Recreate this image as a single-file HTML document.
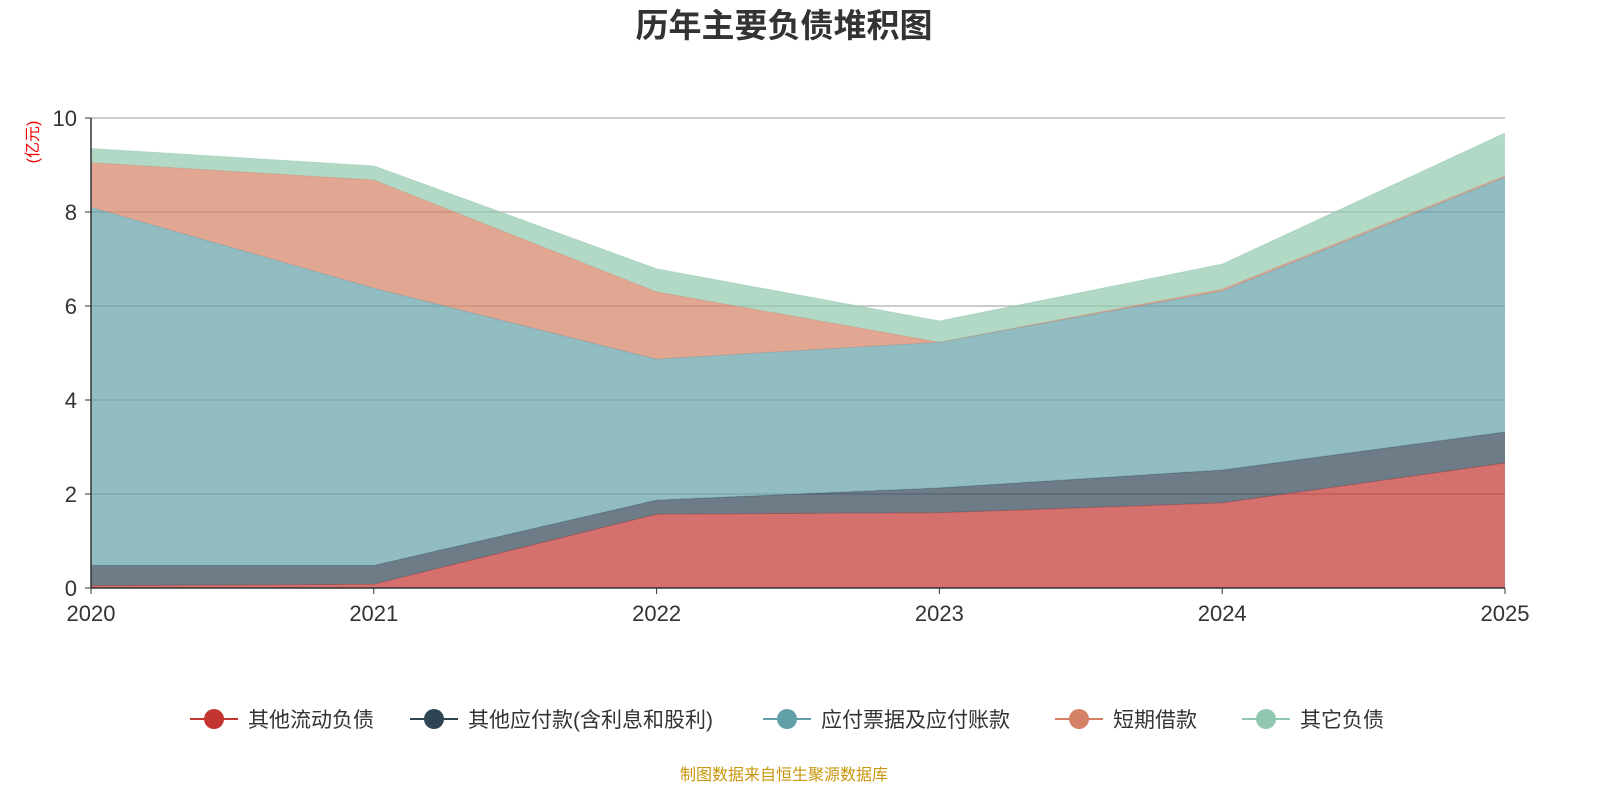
<!DOCTYPE html>
<html><head><meta charset="utf-8"><style>
body{margin:0;background:#fff;width:1600px;height:800px;overflow:hidden;font-family:"Liberation Sans","Noto Sans CJK SC",sans-serif;}
</style></head><body>
<svg id="chart" width="1600" height="800" xmlns="http://www.w3.org/2000/svg" font-family="Liberation Sans, Noto Sans CJK SC, sans-serif"></svg>
<script>
const years = ['2020','2021','2022','2023','2024','2025'];
const seriesNames = ['其他流动负债','其他应付款(含利息和股利)','应付票据及应付账款','短期借款','其它负债'];
const otherCurrent = [0.05,0.08,1.57,1.6,1.81,2.66];
const otherPayable = [0.43,0.40,0.30,0.53,0.70,0.66];
const notesPayable = [7.62,5.9,3.0,3.1,3.81,5.42];
const shortLoans = [0.95,2.3,1.43,0.0,0.04,0.03];
const otherLiab = [0.3,0.3,0.49,0.45,0.53,0.91];
const yTicks = [0,2,4,6,8,10];
const colors = ['#c23531','#2f4554','#61a0a8','#d48265','#91c7ae'];
const data = [otherCurrent,otherPayable,notesPayable,shortLoans,otherLiab];
const NS='http://www.w3.org/2000/svg';
const svg=document.getElementById('chart');
const x0=91,x1=1505,yb=588,yt=118,ymax=10;
const xs=i=>x0+(x1-x0)*i/(years.length-1);
const ys=v=>yb-(yb-yt)*v/ymax;
function mk(tag,attrs,parent){const e=document.createElementNS(NS,tag);for(const k in attrs)e.setAttribute(k,attrs[k]);(parent||svg).appendChild(e);return e;}
let t=mk('text',{x:784,y:37,'text-anchor':'middle','font-size':33,'font-weight':'bold',fill:'#333'});t.textContent='历年主要负债堆积图';


yTicks.forEach(v=>{
 if(v>0){const l=mk('line',{x1:x0,x2:x1,y1:ys(v),y2:ys(v),stroke:'#bbb','stroke-width':1.5});
 
 }
 const tk=mk('line',{x1:x0-6,x2:x0,y1:ys(v),y2:ys(v),stroke:'#333'});
 
 
 const tx=mk('text',{x:x0-14,y:ys(v)+8,'text-anchor':'end','font-size':22,fill:'#333'});tx.textContent=v;
 
 
});
let cum=years.map(()=>0);
data.forEach((arr,s)=>{
 const top=arr.map((v,i)=>cum[i]+v);
 let d='M'+years.map((_,i)=>xs(i)+','+ys(top[i])).join(' L');
 for(let i=years.length-1;i>=0;i--) d+=' L'+xs(i)+','+ys(cum[i]);
 d+=' Z';
 const p=mk('path',{d:d,fill:colors[s],'fill-opacity':0.7,stroke:'none'});
 
 
 const ln=mk('polyline',{points:years.map((_,i)=>xs(i)+','+ys(top[i])).join(' '),fill:'none',stroke:colors[s],'stroke-opacity':0.5,'stroke-width':1});
 
 
 cum=top;
});
let ax=mk('line',{x1:x0,x2:x0,y1:yt,y2:yb,stroke:'#333','stroke-width':1.5});


ax=mk('line',{x1:x0,x2:x1,y1:yb,y2:yb,stroke:'#333','stroke-width':1.5});


years.forEach((y,i)=>{
 const tk=mk('line',{x1:xs(i),x2:xs(i),y1:yb,y2:yb+6,stroke:'#333'});
 
 
 const tx=mk('text',{x:xs(i),y:621,'text-anchor':'middle','font-size':22,fill:'#333'});tx.textContent=y;
 
 
});
t=mk('text',{x:38,y:142,'text-anchor':'middle','font-size':16,fill:'#e00',transform:'rotate(-90 38 142)'});t.textContent='(亿元)';


const lx=[190,410,763,1055,1242];
seriesNames.forEach((n,s)=>{
 const g=mk('g',{});
 
 
 mk('line',{x1:lx[s],x2:lx[s]+48,y1:719,y2:719,stroke:colors[s],'stroke-width':2},g);
 mk('circle',{cx:lx[s]+24,cy:719,r:10,fill:colors[s]},g);
 const tx=mk('text',{x:lx[s]+58,y:727,'font-size':21,fill:'#333'},g);tx.textContent=n;
});
t=mk('text',{x:784,y:780,'text-anchor':'middle','font-size':16,fill:'#c8960c'});t.textContent='制图数据来自恒生聚源数据库';


</script>
</body></html>
